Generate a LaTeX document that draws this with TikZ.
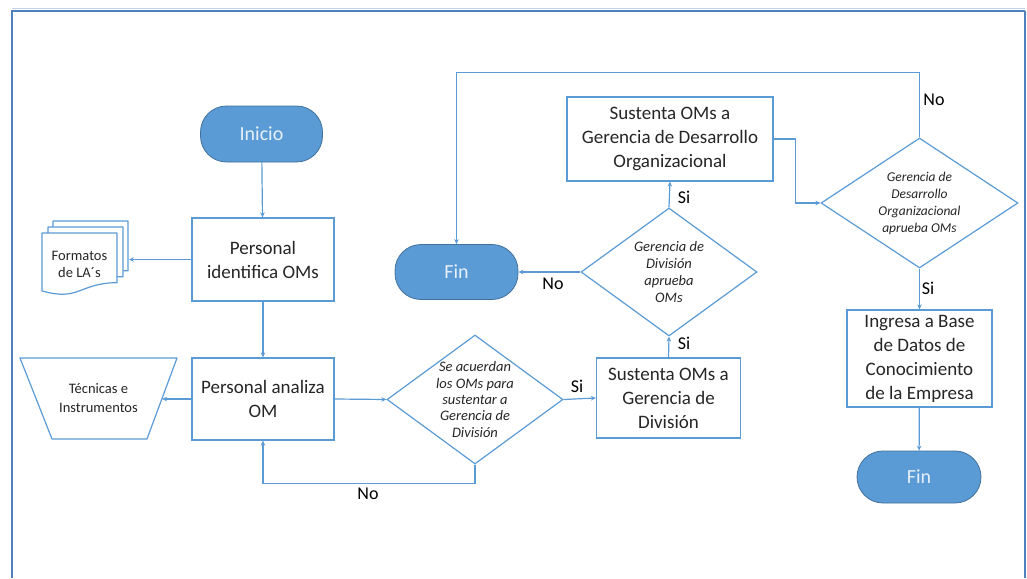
\documentclass[tikz,border=0pt]{standalone}
\usepackage{fontspec}
\setmainfont{Carlito}
\usetikzlibrary{arrows.meta,shapes.geometric}
\definecolor{ln}{HTML}{5B9BD5}
\definecolor{pillfill}{HTML}{5B9BD5}
\definecolor{pilledge}{HTML}{41719C}
\definecolor{framec}{HTML}{4F81BD}
\definecolor{txt}{HTML}{262626}
\begin{document}
\begin{tikzpicture}[x=1pt,y=-1pt,
  box/.style={draw=ln,line width=1.2pt,fill=white,align=center,text=txt,font=\fontsize{19}{24}\selectfont,inner sep=0pt},
  pill/.style={draw=pilledge,line width=0.8pt,fill=pillfill,rounded corners=26pt,text=white!85!ln,font=\fontsize{20}{22}\selectfont,inner sep=0pt},
  dia/.style={diamond,draw=ln,line width=1.2pt,inner sep=0pt,fill=white},
  dtxt/.style={align=center,font=\fontsize{14.5}{16.3}\selectfont\itshape,text=txt,inner sep=0pt},
  conn/.style={draw=ln,line width=1.2pt,-{Stealth[length=5pt,width=4.5pt]}},
  shp/.style={draw=ln,line width=1.2pt,fill=white,line join=round},
  small/.style={align=center,font=\fontsize{14.5}{17}\selectfont,text=txt,inner sep=0pt},
  lab/.style={font=\fontsize{18}{20}\selectfont,text=black,inner sep=0pt}]
\useasboundingbox (0,0) rectangle (1027,578);
% frame
\draw[framec!35,line width=1pt] (12,8.5) -- (1025,8.5);
\draw[framec,line width=2.4pt] (12,578) -- (12,11) -- (1025,11);
\draw[framec,line width=1.6pt] (1025,11) -- (1025,578);

% nodes
\node[pill,minimum width=122pt,minimum height=56pt] (ini) at (261.5,134) {Inicio};
\node[box,minimum width=142pt,minimum height=83pt] (pid) at (263,259.5) {Personal\\identifica OMs};
\node[box,minimum width=142pt,minimum height=82pt] (pan) at (263,399) {Personal analiza\\OM};
\node[dia,minimum width=176pt,minimum height=129pt] (d1) at (475,399.5) {};
\node[dtxt] (d1t) at (d1) {Se acuerdan\\los OMs para\\sustentar a\\Gerencia de\\División};
\node[box,minimum width=144pt,minimum height=80pt] (sdv) at (668.5,398) {Sustenta OMs a\\Gerencia de\\División};
\node[dia,minimum width=176pt,minimum height=128pt] (d2) at (669,272) {};
\node[dtxt,font=\fontsize{14.5}{16.7}\selectfont\itshape] (d2t) at (d2) {Gerencia de\\División\\aprueba\\OMs};
\node[pill,minimum width=123pt,minimum height=55pt] (fin1) at (456.5,272) {Fin};
\node[box,minimum width=206pt,minimum height=84pt] (sdo) at (670,139) {Sustenta OMs a\\Gerencia de Desarrollo\\Organizacional};
\node[dia,minimum width=197pt,minimum height=130pt] (d3) at (919.5,203) {};
\node[dtxt,font=\fontsize{13.5}{17}\selectfont\itshape] (d3t) at (d3) {Gerencia de\\Desarrollo\\Organizacional\\aprueba OMs};
\node[box,minimum width=145pt,minimum height=97pt] (ing) at (919.5,358.5) {Ingresa a Base\\de Datos de\\Conocimiento\\de la Empresa};
\node[pill,minimum width=124pt,minimum height=52pt] (fin2) at (919,477) {Fin};

% multi-document
\draw[shp] (53,221) -- (128,221) -- (128,270.7) .. controls (90.5,270.7) and (90.5,289.7) .. (53,278.9) -- cycle;
\draw[shp] (48,227) -- (123,227) -- (123,276.7) .. controls (85.5,276.7) and (85.5,295.7) .. (48,284.9) -- cycle;
\draw[shp] (42,233) -- (117,233) -- (117,282.7) .. controls (79.5,282.7) and (79.5,301.7) .. (42,290.9) -- cycle;
\node[small] (fmt) at (79.5,264) {Formatos\\de LA´s};
\coordinate (fmtE) at (129,259.5);

% trapezoid
\draw[shp] (20,358) -- (177,358) -- (147,439) -- (52,439) -- cycle;
\node[small,font=\fontsize{14.5}{19}\selectfont] (tec) at (98.5,398) {Técnicas e\\Instrumentos};
\coordinate (tecE) at (162,399);

% connectors
\draw[conn] (ini) -- (pid);
\draw[conn] (pid.west) -- (fmtE);
\draw[conn] (pid) -- (pan);
\draw[conn] (pan.west) -- (tecE);
\draw[conn] (pan.east) -- (d1.west);
\draw[conn] (d1.south) -- ++(0,19) -| (pan.south);
\draw[conn] (d1.east) -- (sdv.west);
\draw[conn] (sdv.north) -- (d2.south);
\draw[conn] (d2.west) -- (fin1.east);
\draw[conn] (d2.north) -- (sdo.south);
\draw[conn] (sdo.east) -- ++(22,0) |- (d3.west);
\draw[conn] (d3.north) -- ++(0,-65) -| (fin1.north);
\draw[conn] (d3.south) -- (ing.north);
\draw[conn] (ing) -- (fin2);

% labels
\node[lab] (lno1) at (368,494) {No};
\node[lab] (lsi1) at (577,386) {Si};
\node[lab] (lsi2) at (684,343) {Si};
\node[lab] (lno2) at (553,284) {No};
\node[lab] (lsi3) at (684,197) {Si};
\node[lab] (lno3) at (934,100) {No};
\node[lab] (lsi4) at (928,288) {Si};
\end{tikzpicture}
\end{document}
